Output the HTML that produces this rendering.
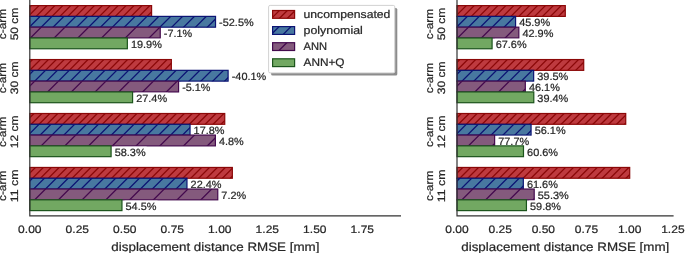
<!DOCTYPE html>
<html><head><meta charset="utf-8"><title>chart</title>
<style>
html,body{margin:0;padding:0;background:#fff;}
body{width:685px;height:253px;overflow:hidden;}
svg{display:block;will-change:transform;}
text{font-family:"Liberation Sans",sans-serif;fill:#262626;stroke:#262626;stroke-width:0.22px;text-rendering:geometricPrecision;}
</style></head><body>
<svg width="685" height="253" viewBox="0 0 685 253">
<defs><clipPath id="c0r0"><rect x="29.80" y="5.60" width="121.79" height="10.79"/></clipPath><clipPath id="c0r1"><rect x="29.80" y="59.55" width="141.55" height="10.79"/></clipPath><clipPath id="c0r2"><rect x="29.80" y="113.50" width="194.94" height="10.79"/></clipPath><clipPath id="c0r3"><rect x="29.80" y="167.45" width="202.54" height="10.79"/></clipPath><clipPath id="c0b0"><rect x="29.80" y="16.39" width="185.73" height="10.79"/></clipPath><clipPath id="c0b1"><rect x="29.80" y="70.34" width="198.31" height="10.79"/></clipPath><clipPath id="c0b2"><rect x="29.80" y="124.29" width="160.24" height="10.79"/></clipPath><clipPath id="c0b3"><rect x="29.80" y="178.24" width="157.17" height="10.79"/></clipPath><clipPath id="c0p0"><rect x="29.80" y="27.18" width="130.44" height="10.79"/></clipPath><clipPath id="c0p1"><rect x="29.80" y="81.13" width="148.77" height="10.79"/></clipPath><clipPath id="c0p2"><rect x="29.80" y="135.08" width="185.58" height="10.79"/></clipPath><clipPath id="c0p3"><rect x="29.80" y="189.03" width="187.96" height="10.79"/></clipPath><clipPath id="c1r0"><rect x="457.00" y="5.60" width="108.28" height="10.79"/></clipPath><clipPath id="c1r1"><rect x="457.00" y="59.55" width="126.71" height="10.79"/></clipPath><clipPath id="c1r2"><rect x="457.00" y="113.50" width="168.73" height="10.79"/></clipPath><clipPath id="c1r3"><rect x="457.00" y="167.45" width="172.70" height="10.79"/></clipPath><clipPath id="c1b0"><rect x="457.00" y="16.39" width="58.58" height="10.79"/></clipPath><clipPath id="c1b1"><rect x="457.00" y="70.34" width="76.66" height="10.79"/></clipPath><clipPath id="c1b2"><rect x="457.00" y="124.29" width="74.07" height="10.79"/></clipPath><clipPath id="c1b3"><rect x="457.00" y="178.24" width="66.32" height="10.79"/></clipPath><clipPath id="c1p0"><rect x="457.00" y="27.18" width="61.83" height="10.79"/></clipPath><clipPath id="c1p1"><rect x="457.00" y="81.13" width="68.30" height="10.79"/></clipPath><clipPath id="c1p2"><rect x="457.00" y="135.08" width="37.63" height="10.79"/></clipPath><clipPath id="c1p3"><rect x="457.00" y="189.03" width="77.20" height="10.79"/></clipPath><clipPath id="clr"><rect x="272.6" y="10.50" width="22.00" height="7.8"/></clipPath><clipPath id="clb"><rect x="272.6" y="26.60" width="22.00" height="7.8"/></clipPath><clipPath id="clp"><rect x="272.6" y="42.70" width="22.00" height="7.8"/></clipPath></defs>
<rect width="685" height="253" fill="#fff"/>
<g style="mix-blend-mode:multiply">
<g><rect x="29.80" y="5.60" width="121.79" height="10.79" fill="#BE3A3F"/><rect x="29.80" y="59.55" width="141.55" height="10.79" fill="#BE3A3F"/><rect x="29.80" y="113.50" width="194.94" height="10.79" fill="#BE3A3F"/><rect x="29.80" y="167.45" width="202.54" height="10.79" fill="#BE3A3F"/><path d="M16.30 4.60L3.51 17.39M24.21 4.60L11.42 17.39M32.12 4.60L19.33 17.39M40.04 4.60L27.25 17.39M47.95 4.60L35.16 17.39M55.86 4.60L43.07 17.39M63.77 4.60L50.98 17.39M71.69 4.60L58.90 17.39M79.60 4.60L66.81 17.39M87.51 4.60L74.72 17.39M95.42 4.60L82.63 17.39M103.33 4.60L90.54 17.39M111.25 4.60L98.46 17.39M119.16 4.60L106.37 17.39M127.07 4.60L114.28 17.39M134.98 4.60L122.19 17.39M142.90 4.60L130.11 17.39M150.81 4.60L138.02 17.39M158.72 4.60L145.93 17.39M166.63 4.60L153.84 17.39M174.54 4.60L161.75 17.39" stroke="#8B0808" stroke-width="1.3" fill="none" clip-path="url(#c0r0)"/><path d="M17.74 58.55L4.95 71.34M25.65 58.55L12.86 71.34M33.56 58.55L20.77 71.34M41.47 58.55L28.68 71.34M49.38 58.55L36.59 71.34M57.30 58.55L44.51 71.34M65.21 58.55L52.42 71.34M73.12 58.55L60.33 71.34M81.03 58.55L68.24 71.34M88.95 58.55L76.16 71.34M96.86 58.55L84.07 71.34M104.77 58.55L91.98 71.34M112.68 58.55L99.89 71.34M120.59 58.55L107.80 71.34M128.51 58.55L115.72 71.34M136.42 58.55L123.63 71.34M144.33 58.55L131.54 71.34M152.24 58.55L139.45 71.34M160.16 58.55L147.37 71.34M168.07 58.55L155.28 71.34M175.98 58.55L163.19 71.34M183.89 58.55L171.10 71.34M191.80 58.55L179.01 71.34" stroke="#8B0808" stroke-width="1.3" fill="none" clip-path="url(#c0r1)"/><path d="M19.17 112.50L6.38 125.29M27.08 112.50L14.29 125.29M35.00 112.50L22.21 125.29M42.91 112.50L30.12 125.29M50.82 112.50L38.03 125.29M58.73 112.50L45.94 125.29M66.64 112.50L53.85 125.29M74.56 112.50L61.77 125.29M82.47 112.50L69.68 125.29M90.38 112.50L77.59 125.29M98.29 112.50L85.50 125.29M106.21 112.50L93.42 125.29M114.12 112.50L101.33 125.29M122.03 112.50L109.24 125.29M129.94 112.50L117.15 125.29M137.85 112.50L125.06 125.29M145.77 112.50L132.98 125.29M153.68 112.50L140.89 125.29M161.59 112.50L148.80 125.29M169.50 112.50L156.71 125.29M177.42 112.50L164.63 125.29M185.33 112.50L172.54 125.29M193.24 112.50L180.45 125.29M201.15 112.50L188.36 125.29M209.06 112.50L196.27 125.29M216.98 112.50L204.19 125.29M224.89 112.50L212.10 125.29M232.80 112.50L220.01 125.29M240.71 112.50L227.92 125.29M248.63 112.50L235.84 125.29" stroke="#8B0808" stroke-width="1.3" fill="none" clip-path="url(#c0r2)"/><path d="M20.61 166.45L7.82 179.24M28.52 166.45L15.73 179.24M36.43 166.45L23.64 179.24M44.34 166.45L31.55 179.24M52.26 166.45L39.47 179.24M60.17 166.45L47.38 179.24M68.08 166.45L55.29 179.24M75.99 166.45L63.20 179.24M83.90 166.45L71.11 179.24M91.82 166.45L79.03 179.24M99.73 166.45L86.94 179.24M107.64 166.45L94.85 179.24M115.55 166.45L102.76 179.24M123.47 166.45L110.68 179.24M131.38 166.45L118.59 179.24M139.29 166.45L126.50 179.24M147.20 166.45L134.41 179.24M155.11 166.45L142.32 179.24M163.03 166.45L150.24 179.24M170.94 166.45L158.15 179.24M178.85 166.45L166.06 179.24M186.76 166.45L173.97 179.24M194.68 166.45L181.89 179.24M202.59 166.45L189.80 179.24M210.50 166.45L197.71 179.24M218.41 166.45L205.62 179.24M226.32 166.45L213.53 179.24M234.24 166.45L221.45 179.24M242.15 166.45L229.36 179.24M250.06 166.45L237.27 179.24M257.97 166.45L245.18 179.24" stroke="#8B0808" stroke-width="1.3" fill="none" clip-path="url(#c0r3)"/><rect x="29.80" y="5.60" width="121.79" height="10.79" fill="none" stroke="#8B0808" stroke-width="1.2"/><rect x="29.80" y="59.55" width="141.55" height="10.79" fill="none" stroke="#8B0808" stroke-width="1.2"/><rect x="29.80" y="113.50" width="194.94" height="10.79" fill="none" stroke="#8B0808" stroke-width="1.2"/><rect x="29.80" y="167.45" width="202.54" height="10.79" fill="none" stroke="#8B0808" stroke-width="1.2"/></g>
<g><rect x="29.80" y="16.39" width="185.73" height="10.79" fill="#4878A0"/><rect x="29.80" y="70.34" width="198.31" height="10.79" fill="#4878A0"/><rect x="29.80" y="124.29" width="160.24" height="10.79" fill="#4878A0"/><rect x="29.80" y="178.24" width="157.17" height="10.79" fill="#4878A0"/><path d="M17.38 15.39L4.59 28.18M29.25 15.39L16.46 28.18M41.11 15.39L28.32 28.18M52.98 15.39L40.19 28.18M64.85 15.39L52.06 28.18M76.72 15.39L63.93 28.18M88.59 15.39L75.80 28.18M100.46 15.39L87.67 28.18M112.33 15.39L99.53 28.18M124.19 15.39L111.40 28.18M136.06 15.39L123.27 28.18M147.93 15.39L135.14 28.18M159.80 15.39L147.01 28.18M171.67 15.39L158.88 28.18M183.53 15.39L170.74 28.18M195.40 15.39L182.61 28.18M207.27 15.39L194.48 28.18M219.14 15.39L206.35 28.18M231.01 15.39L218.22 28.18M242.88 15.39L230.09 28.18" stroke="#0C1474" stroke-width="1.3" fill="none" clip-path="url(#c0b0)"/><path d="M10.90 69.34L-1.89 82.13M22.77 69.34L9.98 82.13M34.64 69.34L21.85 82.13M46.51 69.34L33.72 82.13M58.38 69.34L45.59 82.13M70.24 69.34L57.45 82.13M82.11 69.34L69.32 82.13M93.98 69.34L81.19 82.13M105.85 69.34L93.06 82.13M117.72 69.34L104.93 82.13M129.58 69.34L116.79 82.13M141.45 69.34L128.66 82.13M153.32 69.34L140.53 82.13M165.19 69.34L152.40 82.13M177.06 69.34L164.27 82.13M188.93 69.34L176.14 82.13M200.79 69.34L188.00 82.13M212.66 69.34L199.87 82.13M224.53 69.34L211.74 82.13M236.40 69.34L223.61 82.13M248.27 69.34L235.48 82.13M260.14 69.34L247.35 82.13" stroke="#0C1474" stroke-width="1.3" fill="none" clip-path="url(#c0b1)"/><path d="M16.29 123.29L3.50 136.08M28.16 123.29L15.37 136.08M40.03 123.29L27.24 136.08M51.90 123.29L39.11 136.08M63.77 123.29L50.98 136.08M75.63 123.29L62.84 136.08M87.50 123.29L74.71 136.08M99.37 123.29L86.58 136.08M111.24 123.29L98.45 136.08M123.11 123.29L110.32 136.08M134.98 123.29L122.19 136.08M146.84 123.29L134.06 136.08M158.71 123.29L145.92 136.08M170.58 123.29L157.79 136.08M182.45 123.29L169.66 136.08M194.32 123.29L181.53 136.08M206.19 123.29L193.40 136.08M218.06 123.29L205.27 136.08" stroke="#0C1474" stroke-width="1.3" fill="none" clip-path="url(#c0b2)"/><path d="M9.82 177.24L-2.97 190.03M21.68 177.24L8.89 190.03M33.55 177.24L20.76 190.03M45.42 177.24L32.63 190.03M57.29 177.24L44.50 190.03M69.16 177.24L56.37 190.03M81.03 177.24L68.24 190.03M92.89 177.24L80.10 190.03M104.76 177.24L91.97 190.03M116.63 177.24L103.84 190.03M128.50 177.24L115.71 190.03M140.37 177.24L127.58 190.03M152.24 177.24L139.45 190.03M164.11 177.24L151.32 190.03M175.97 177.24L163.18 190.03M187.84 177.24L175.05 190.03M199.71 177.24L186.92 190.03M211.58 177.24L198.79 190.03" stroke="#0C1474" stroke-width="1.3" fill="none" clip-path="url(#c0b3)"/><rect x="29.80" y="16.39" width="185.73" height="10.79" fill="none" stroke="#0C1474" stroke-width="1.2"/><rect x="29.80" y="70.34" width="198.31" height="10.79" fill="none" stroke="#0C1474" stroke-width="1.2"/><rect x="29.80" y="124.29" width="160.24" height="10.79" fill="none" stroke="#0C1474" stroke-width="1.2"/><rect x="29.80" y="178.24" width="157.17" height="10.79" fill="none" stroke="#0C1474" stroke-width="1.2"/><rect x="218.13" y="17.19" width="36.49" height="9.8" fill="#fff"/><text x="219.13" y="26.48" font-size="10.53" textLength="34.49" lengthAdjust="spacingAndGlyphs">-52.5%</text><rect x="230.71" y="71.14" width="36.49" height="9.8" fill="#fff"/><text x="231.71" y="80.44" font-size="10.53" textLength="34.49" lengthAdjust="spacingAndGlyphs">-40.1%</text><rect x="192.64" y="125.09" width="32.97" height="9.8" fill="#fff"/><text x="193.64" y="134.38" font-size="10.53" textLength="30.97" lengthAdjust="spacingAndGlyphs">17.8%</text><rect x="189.57" y="179.04" width="32.97" height="9.8" fill="#fff"/><text x="190.57" y="188.34" font-size="10.53" textLength="30.97" lengthAdjust="spacingAndGlyphs">22.4%</text></g>
<g><rect x="29.80" y="27.18" width="130.44" height="10.79" fill="#845A7D"/><rect x="29.80" y="81.13" width="148.77" height="10.79" fill="#845A7D"/><rect x="29.80" y="135.08" width="185.58" height="10.79" fill="#845A7D"/><rect x="29.80" y="189.03" width="187.96" height="10.79" fill="#845A7D"/><path d="M-5.28 26.18L-18.07 38.97M18.46 26.18L5.67 38.97M42.19 26.18L29.40 38.97M65.93 26.18L53.14 38.97M89.67 26.18L76.88 38.97M113.40 26.18L100.61 38.97M137.14 26.18L124.35 38.97M160.88 26.18L148.09 38.97M184.61 26.18L171.82 38.97M208.35 26.18L195.56 38.97" stroke="#440A4E" stroke-width="1.3" fill="none" clip-path="url(#c0p0)"/><path d="M-11.76 80.13L-24.55 92.92M11.98 80.13L-0.81 92.92M35.72 80.13L22.93 92.92M59.45 80.13L46.66 92.92M83.19 80.13L70.40 92.92M106.93 80.13L94.14 92.92M130.66 80.13L117.87 92.92M154.40 80.13L141.61 92.92M178.14 80.13L165.35 92.92M201.87 80.13L189.08 92.92M225.61 80.13L212.82 92.92" stroke="#440A4E" stroke-width="1.3" fill="none" clip-path="url(#c0p1)"/><path d="M5.50 134.08L-7.29 146.87M29.24 134.08L16.45 146.87M52.98 134.08L40.19 146.87M76.71 134.08L63.92 146.87M100.45 134.08L87.66 146.87M124.19 134.08L111.40 146.87M147.92 134.08L135.13 146.87M171.66 134.08L158.87 146.87M195.40 134.08L182.61 146.87M219.13 134.08L206.34 146.87M242.87 134.08L230.08 146.87M266.61 134.08L253.82 146.87" stroke="#440A4E" stroke-width="1.3" fill="none" clip-path="url(#c0p2)"/><path d="M-0.97 188.03L-13.76 200.82M22.76 188.03L9.97 200.82M46.50 188.03L33.71 200.82M70.24 188.03L57.45 200.82M93.97 188.03L81.18 200.82M117.71 188.03L104.92 200.82M141.45 188.03L128.66 200.82M165.18 188.03L152.39 200.82M188.92 188.03L176.13 200.82M212.66 188.03L199.87 200.82M236.39 188.03L223.60 200.82M260.13 188.03L247.34 200.82" stroke="#440A4E" stroke-width="1.3" fill="none" clip-path="url(#c0p3)"/><rect x="29.80" y="27.18" width="130.44" height="10.79" fill="none" stroke="#440A4E" stroke-width="1.2"/><rect x="29.80" y="81.13" width="148.77" height="10.79" fill="none" stroke="#440A4E" stroke-width="1.2"/><rect x="29.80" y="135.08" width="185.58" height="10.79" fill="none" stroke="#440A4E" stroke-width="1.2"/><rect x="29.80" y="189.03" width="187.96" height="10.79" fill="none" stroke="#440A4E" stroke-width="1.2"/><rect x="162.84" y="27.98" width="30.29" height="9.8" fill="#fff"/><text x="163.84" y="37.28" font-size="10.53" textLength="28.29" lengthAdjust="spacingAndGlyphs">-7.1%</text><rect x="181.17" y="81.92" width="30.29" height="9.8" fill="#fff"/><text x="182.17" y="91.22" font-size="10.53" textLength="28.29" lengthAdjust="spacingAndGlyphs">-5.1%</text><rect x="217.98" y="135.88" width="26.77" height="9.8" fill="#fff"/><text x="218.98" y="145.17" font-size="10.53" textLength="24.77" lengthAdjust="spacingAndGlyphs">4.8%</text><rect x="220.36" y="189.83" width="26.77" height="9.8" fill="#fff"/><text x="221.36" y="199.13" font-size="10.53" textLength="24.77" lengthAdjust="spacingAndGlyphs">7.2%</text></g>
<g><rect x="29.80" y="37.97" width="97.55" height="10.79" fill="#72A862"/><rect x="29.80" y="91.92" width="102.77" height="10.79" fill="#72A862"/><rect x="29.80" y="145.87" width="81.29" height="10.79" fill="#72A862"/><rect x="29.80" y="199.82" width="92.16" height="10.79" fill="#72A862"/><rect x="29.80" y="37.97" width="97.55" height="10.79" fill="none" stroke="#1C541C" stroke-width="1.2"/><rect x="29.80" y="91.92" width="102.77" height="10.79" fill="none" stroke="#1C541C" stroke-width="1.2"/><rect x="29.80" y="145.87" width="81.29" height="10.79" fill="none" stroke="#1C541C" stroke-width="1.2"/><rect x="29.80" y="199.82" width="92.16" height="10.79" fill="none" stroke="#1C541C" stroke-width="1.2"/><rect x="129.95" y="38.76" width="32.97" height="9.8" fill="#fff"/><text x="130.95" y="48.06" font-size="10.53" textLength="30.97" lengthAdjust="spacingAndGlyphs">19.9%</text><rect x="135.17" y="92.72" width="32.97" height="9.8" fill="#fff"/><text x="136.17" y="102.02" font-size="10.53" textLength="30.97" lengthAdjust="spacingAndGlyphs">27.4%</text><rect x="113.69" y="146.67" width="32.97" height="9.8" fill="#fff"/><text x="114.69" y="155.97" font-size="10.53" textLength="30.97" lengthAdjust="spacingAndGlyphs">58.3%</text><rect x="124.56" y="200.62" width="32.97" height="9.8" fill="#fff"/><text x="125.56" y="209.92" font-size="10.53" textLength="30.97" lengthAdjust="spacingAndGlyphs">54.5%</text></g>
<path d="M29.80 0V215.8H401.0" fill="none" stroke="#333333" stroke-width="1.2"/>
<text x="18.11" y="233.10" font-size="10.81" textLength="23.38" lengthAdjust="spacingAndGlyphs">0.00</text>
<text x="65.61" y="233.10" font-size="10.81" textLength="23.38" lengthAdjust="spacingAndGlyphs">0.25</text>
<text x="113.11" y="233.10" font-size="10.81" textLength="23.38" lengthAdjust="spacingAndGlyphs">0.50</text>
<text x="160.61" y="233.10" font-size="10.81" textLength="23.38" lengthAdjust="spacingAndGlyphs">0.75</text>
<text x="208.11" y="233.10" font-size="10.81" textLength="23.38" lengthAdjust="spacingAndGlyphs">1.00</text>
<text x="255.61" y="233.10" font-size="10.81" textLength="23.38" lengthAdjust="spacingAndGlyphs">1.25</text>
<text x="303.11" y="233.10" font-size="10.81" textLength="23.38" lengthAdjust="spacingAndGlyphs">1.50</text>
<text x="350.61" y="233.10" font-size="10.81" textLength="23.38" lengthAdjust="spacingAndGlyphs">1.75</text>
<text x="111.38" y="250.80" font-size="12.26" textLength="208.05" lengthAdjust="spacingAndGlyphs">displacement distance RMSE [mm]</text>
<text transform="translate(5.90 39.18) rotate(-90)" font-size="10.81" textLength="30.36" lengthAdjust="spacingAndGlyphs">c-arm</text>
<text transform="translate(18.00 40.35) rotate(-90)" font-size="10.81" textLength="32.70" lengthAdjust="spacingAndGlyphs">50 cm</text>
<text transform="translate(5.90 93.13) rotate(-90)" font-size="10.81" textLength="30.36" lengthAdjust="spacingAndGlyphs">c-arm</text>
<text transform="translate(18.00 94.30) rotate(-90)" font-size="10.81" textLength="32.70" lengthAdjust="spacingAndGlyphs">30 cm</text>
<text transform="translate(5.90 147.08) rotate(-90)" font-size="10.81" textLength="30.36" lengthAdjust="spacingAndGlyphs">c-arm</text>
<text transform="translate(18.00 148.25) rotate(-90)" font-size="10.81" textLength="32.70" lengthAdjust="spacingAndGlyphs">12 cm</text>
<text transform="translate(5.90 201.03) rotate(-90)" font-size="10.81" textLength="30.36" lengthAdjust="spacingAndGlyphs">c-arm</text>
<text transform="translate(18.00 202.20) rotate(-90)" font-size="10.81" textLength="32.70" lengthAdjust="spacingAndGlyphs">11 cm</text>
<g><rect x="457.00" y="5.60" width="108.28" height="10.79" fill="#BE3A3F"/><rect x="457.00" y="59.55" width="126.71" height="10.79" fill="#BE3A3F"/><rect x="457.00" y="113.50" width="168.73" height="10.79" fill="#BE3A3F"/><rect x="457.00" y="167.45" width="172.70" height="10.79" fill="#BE3A3F"/><path d="M443.56 4.60L430.77 17.39M451.47 4.60L438.68 17.39M459.38 4.60L446.59 17.39M467.30 4.60L454.51 17.39M475.21 4.60L462.42 17.39M483.12 4.60L470.33 17.39M491.03 4.60L478.24 17.39M498.95 4.60L486.16 17.39M506.86 4.60L494.07 17.39M514.77 4.60L501.98 17.39M522.68 4.60L509.89 17.39M530.59 4.60L517.80 17.39M538.51 4.60L525.72 17.39M546.42 4.60L533.63 17.39M554.33 4.60L541.54 17.39M562.24 4.60L549.45 17.39M570.16 4.60L557.37 17.39M578.07 4.60L565.28 17.39M585.98 4.60L573.19 17.39" stroke="#8B0808" stroke-width="1.3" fill="none" clip-path="url(#c1r0)"/><path d="M445.00 58.55L432.21 71.34M452.91 58.55L440.12 71.34M460.82 58.55L448.03 71.34M468.73 58.55L455.94 71.34M476.64 58.55L463.85 71.34M484.56 58.55L471.77 71.34M492.47 58.55L479.68 71.34M500.38 58.55L487.59 71.34M508.29 58.55L495.50 71.34M516.21 58.55L503.42 71.34M524.12 58.55L511.33 71.34M532.03 58.55L519.24 71.34M539.94 58.55L527.15 71.34M547.85 58.55L535.06 71.34M555.77 58.55L542.98 71.34M563.68 58.55L550.89 71.34M571.59 58.55L558.80 71.34M579.50 58.55L566.71 71.34M587.42 58.55L574.63 71.34M595.33 58.55L582.54 71.34M603.24 58.55L590.45 71.34M611.15 58.55L598.36 71.34" stroke="#8B0808" stroke-width="1.3" fill="none" clip-path="url(#c1r1)"/><path d="M446.43 112.50L433.64 125.29M454.34 112.50L441.55 125.29M462.26 112.50L449.47 125.29M470.17 112.50L457.38 125.29M478.08 112.50L465.29 125.29M485.99 112.50L473.20 125.29M493.90 112.50L481.11 125.29M501.82 112.50L489.03 125.29M509.73 112.50L496.94 125.29M517.64 112.50L504.85 125.29M525.55 112.50L512.76 125.29M533.47 112.50L520.68 125.29M541.38 112.50L528.59 125.29M549.29 112.50L536.50 125.29M557.20 112.50L544.41 125.29M565.11 112.50L552.32 125.29M573.03 112.50L560.24 125.29M580.94 112.50L568.15 125.29M588.85 112.50L576.06 125.29M596.76 112.50L583.97 125.29M604.68 112.50L591.89 125.29M612.59 112.50L599.80 125.29M620.50 112.50L607.71 125.29M628.41 112.50L615.62 125.29M636.32 112.50L623.53 125.29M644.24 112.50L631.45 125.29M652.15 112.50L639.36 125.29" stroke="#8B0808" stroke-width="1.3" fill="none" clip-path="url(#c1r2)"/><path d="M447.87 166.45L435.08 179.24M455.78 166.45L442.99 179.24M463.69 166.45L450.90 179.24M471.60 166.45L458.81 179.24M479.52 166.45L466.73 179.24M487.43 166.45L474.64 179.24M495.34 166.45L482.55 179.24M503.25 166.45L490.46 179.24M511.16 166.45L498.37 179.24M519.08 166.45L506.29 179.24M526.99 166.45L514.20 179.24M534.90 166.45L522.11 179.24M542.81 166.45L530.02 179.24M550.73 166.45L537.94 179.24M558.64 166.45L545.85 179.24M566.55 166.45L553.76 179.24M574.46 166.45L561.67 179.24M582.37 166.45L569.58 179.24M590.29 166.45L577.50 179.24M598.20 166.45L585.41 179.24M606.11 166.45L593.32 179.24M614.02 166.45L601.23 179.24M621.94 166.45L609.15 179.24M629.85 166.45L617.06 179.24M637.76 166.45L624.97 179.24M645.67 166.45L632.88 179.24M653.58 166.45L640.79 179.24" stroke="#8B0808" stroke-width="1.3" fill="none" clip-path="url(#c1r3)"/><rect x="457.00" y="5.60" width="108.28" height="10.79" fill="none" stroke="#8B0808" stroke-width="1.2"/><rect x="457.00" y="59.55" width="126.71" height="10.79" fill="none" stroke="#8B0808" stroke-width="1.2"/><rect x="457.00" y="113.50" width="168.73" height="10.79" fill="none" stroke="#8B0808" stroke-width="1.2"/><rect x="457.00" y="167.45" width="172.70" height="10.79" fill="none" stroke="#8B0808" stroke-width="1.2"/></g>
<g><rect x="457.00" y="16.39" width="58.58" height="10.79" fill="#4878A0"/><rect x="457.00" y="70.34" width="76.66" height="10.79" fill="#4878A0"/><rect x="457.00" y="124.29" width="74.07" height="10.79" fill="#4878A0"/><rect x="457.00" y="178.24" width="66.32" height="10.79" fill="#4878A0"/><path d="M444.64 15.39L431.85 28.18M456.51 15.39L443.72 28.18M468.37 15.39L455.58 28.18M480.24 15.39L467.45 28.18M492.11 15.39L479.32 28.18M503.98 15.39L491.19 28.18M515.85 15.39L503.06 28.18M527.72 15.39L514.93 28.18M539.58 15.39L526.79 28.18" stroke="#0C1474" stroke-width="1.3" fill="none" clip-path="url(#c1b0)"/><path d="M438.16 69.34L425.37 82.13M450.03 69.34L437.24 82.13M461.90 69.34L449.11 82.13M473.77 69.34L460.98 82.13M485.63 69.34L472.84 82.13M497.50 69.34L484.71 82.13M509.37 69.34L496.58 82.13M521.24 69.34L508.45 82.13M533.11 69.34L520.32 82.13M544.98 69.34L532.19 82.13M556.84 69.34L544.05 82.13M568.71 69.34L555.92 82.13" stroke="#0C1474" stroke-width="1.3" fill="none" clip-path="url(#c1b1)"/><path d="M443.55 123.29L430.76 136.08M455.42 123.29L442.63 136.08M467.29 123.29L454.50 136.08M479.16 123.29L466.37 136.08M491.03 123.29L478.24 136.08M502.89 123.29L490.10 136.08M514.76 123.29L501.97 136.08M526.63 123.29L513.84 136.08M538.50 123.29L525.71 136.08M550.37 123.29L537.58 136.08M562.24 123.29L549.45 136.08" stroke="#0C1474" stroke-width="1.3" fill="none" clip-path="url(#c1b2)"/><path d="M437.08 177.24L424.29 190.03M448.94 177.24L436.15 190.03M460.81 177.24L448.02 190.03M472.68 177.24L459.89 190.03M484.55 177.24L471.76 190.03M496.42 177.24L483.63 190.03M508.29 177.24L495.50 190.03M520.15 177.24L507.36 190.03M532.02 177.24L519.23 190.03M543.89 177.24L531.10 190.03M555.76 177.24L542.97 190.03" stroke="#0C1474" stroke-width="1.3" fill="none" clip-path="url(#c1b3)"/><rect x="457.00" y="16.39" width="58.58" height="10.79" fill="none" stroke="#0C1474" stroke-width="1.2"/><rect x="457.00" y="70.34" width="76.66" height="10.79" fill="none" stroke="#0C1474" stroke-width="1.2"/><rect x="457.00" y="124.29" width="74.07" height="10.79" fill="none" stroke="#0C1474" stroke-width="1.2"/><rect x="457.00" y="178.24" width="66.32" height="10.79" fill="none" stroke="#0C1474" stroke-width="1.2"/><rect x="518.18" y="17.19" width="32.97" height="9.8" fill="#fff"/><text x="519.18" y="26.48" font-size="10.53" textLength="30.97" lengthAdjust="spacingAndGlyphs">45.9%</text><rect x="536.26" y="71.14" width="32.97" height="9.8" fill="#fff"/><text x="537.26" y="80.44" font-size="10.53" textLength="30.97" lengthAdjust="spacingAndGlyphs">39.5%</text><rect x="533.67" y="125.09" width="32.97" height="9.8" fill="#fff"/><text x="534.67" y="134.38" font-size="10.53" textLength="30.97" lengthAdjust="spacingAndGlyphs">56.1%</text><rect x="525.92" y="179.04" width="32.97" height="9.8" fill="#fff"/><text x="526.92" y="188.34" font-size="10.53" textLength="30.97" lengthAdjust="spacingAndGlyphs">61.6%</text></g>
<g><rect x="457.00" y="27.18" width="61.83" height="10.79" fill="#845A7D"/><rect x="457.00" y="81.13" width="68.30" height="10.79" fill="#845A7D"/><rect x="457.00" y="135.08" width="37.63" height="10.79" fill="#845A7D"/><rect x="457.00" y="189.03" width="77.20" height="10.79" fill="#845A7D"/><path d="M421.98 26.18L409.19 38.97M445.72 26.18L432.93 38.97M469.45 26.18L456.66 38.97M493.19 26.18L480.40 38.97M516.93 26.18L504.14 38.97M540.66 26.18L527.87 38.97M564.40 26.18L551.61 38.97" stroke="#440A4E" stroke-width="1.3" fill="none" clip-path="url(#c1p0)"/><path d="M415.50 80.13L402.71 92.92M439.24 80.13L426.45 92.92M462.98 80.13L450.19 92.92M486.71 80.13L473.92 92.92M510.45 80.13L497.66 92.92M534.19 80.13L521.40 92.92M557.92 80.13L545.13 92.92M581.66 80.13L568.87 92.92" stroke="#440A4E" stroke-width="1.3" fill="none" clip-path="url(#c1p1)"/><path d="M432.76 134.08L419.97 146.87M456.50 134.08L443.71 146.87M480.24 134.08L467.45 146.87M503.97 134.08L491.18 146.87M527.71 134.08L514.92 146.87M551.45 134.08L538.66 146.87" stroke="#440A4E" stroke-width="1.3" fill="none" clip-path="url(#c1p2)"/><path d="M426.29 188.03L413.50 200.82M450.02 188.03L437.23 200.82M473.76 188.03L460.97 200.82M497.50 188.03L484.71 200.82M521.23 188.03L508.44 200.82M544.97 188.03L532.18 200.82M568.71 188.03L555.92 200.82M592.44 188.03L579.65 200.82" stroke="#440A4E" stroke-width="1.3" fill="none" clip-path="url(#c1p3)"/><rect x="457.00" y="27.18" width="61.83" height="10.79" fill="none" stroke="#440A4E" stroke-width="1.2"/><rect x="457.00" y="81.13" width="68.30" height="10.79" fill="none" stroke="#440A4E" stroke-width="1.2"/><rect x="457.00" y="135.08" width="37.63" height="10.79" fill="none" stroke="#440A4E" stroke-width="1.2"/><rect x="457.00" y="189.03" width="77.20" height="10.79" fill="none" stroke="#440A4E" stroke-width="1.2"/><rect x="521.43" y="27.98" width="32.97" height="9.8" fill="#fff"/><text x="522.43" y="37.28" font-size="10.53" textLength="30.97" lengthAdjust="spacingAndGlyphs">42.9%</text><rect x="527.90" y="81.92" width="32.97" height="9.8" fill="#fff"/><text x="528.90" y="91.22" font-size="10.53" textLength="30.97" lengthAdjust="spacingAndGlyphs">46.1%</text><rect x="497.23" y="135.88" width="32.97" height="9.8" fill="#fff"/><text x="498.23" y="145.17" font-size="10.53" textLength="30.97" lengthAdjust="spacingAndGlyphs">77.7%</text><rect x="536.80" y="189.83" width="32.97" height="9.8" fill="#fff"/><text x="537.80" y="199.13" font-size="10.53" textLength="30.97" lengthAdjust="spacingAndGlyphs">55.3%</text></g>
<g><rect x="457.00" y="37.97" width="35.08" height="10.79" fill="#72A862"/><rect x="457.00" y="91.92" width="76.79" height="10.79" fill="#72A862"/><rect x="457.00" y="145.87" width="66.48" height="10.79" fill="#72A862"/><rect x="457.00" y="199.82" width="69.43" height="10.79" fill="#72A862"/><rect x="457.00" y="37.97" width="35.08" height="10.79" fill="none" stroke="#1C541C" stroke-width="1.2"/><rect x="457.00" y="91.92" width="76.79" height="10.79" fill="none" stroke="#1C541C" stroke-width="1.2"/><rect x="457.00" y="145.87" width="66.48" height="10.79" fill="none" stroke="#1C541C" stroke-width="1.2"/><rect x="457.00" y="199.82" width="69.43" height="10.79" fill="none" stroke="#1C541C" stroke-width="1.2"/><rect x="494.68" y="38.76" width="32.97" height="9.8" fill="#fff"/><text x="495.68" y="48.06" font-size="10.53" textLength="30.97" lengthAdjust="spacingAndGlyphs">67.6%</text><rect x="536.39" y="92.72" width="32.97" height="9.8" fill="#fff"/><text x="537.39" y="102.02" font-size="10.53" textLength="30.97" lengthAdjust="spacingAndGlyphs">39.4%</text><rect x="526.08" y="146.67" width="32.97" height="9.8" fill="#fff"/><text x="527.08" y="155.97" font-size="10.53" textLength="30.97" lengthAdjust="spacingAndGlyphs">60.6%</text><rect x="529.03" y="200.62" width="32.97" height="9.8" fill="#fff"/><text x="530.03" y="209.92" font-size="10.53" textLength="30.97" lengthAdjust="spacingAndGlyphs">59.8%</text></g>
<path d="M457.00 0V215.8H673.6" fill="none" stroke="#333333" stroke-width="1.2"/>
<text x="445.31" y="233.10" font-size="10.81" textLength="23.38" lengthAdjust="spacingAndGlyphs">0.00</text>
<text x="488.49" y="233.10" font-size="10.81" textLength="23.38" lengthAdjust="spacingAndGlyphs">0.25</text>
<text x="531.66" y="233.10" font-size="10.81" textLength="23.38" lengthAdjust="spacingAndGlyphs">0.50</text>
<text x="574.84" y="233.10" font-size="10.81" textLength="23.38" lengthAdjust="spacingAndGlyphs">0.75</text>
<text x="618.01" y="233.10" font-size="10.81" textLength="23.38" lengthAdjust="spacingAndGlyphs">1.00</text>
<text x="661.19" y="233.10" font-size="10.81" textLength="23.38" lengthAdjust="spacingAndGlyphs">1.25</text>
<text x="461.28" y="250.80" font-size="12.26" textLength="208.05" lengthAdjust="spacingAndGlyphs">displacement distance RMSE [mm]</text>
<text transform="translate(433.20 39.18) rotate(-90)" font-size="10.81" textLength="30.36" lengthAdjust="spacingAndGlyphs">c-arm</text>
<text transform="translate(445.30 40.35) rotate(-90)" font-size="10.81" textLength="32.70" lengthAdjust="spacingAndGlyphs">50 cm</text>
<text transform="translate(433.20 93.13) rotate(-90)" font-size="10.81" textLength="30.36" lengthAdjust="spacingAndGlyphs">c-arm</text>
<text transform="translate(445.30 94.30) rotate(-90)" font-size="10.81" textLength="32.70" lengthAdjust="spacingAndGlyphs">30 cm</text>
<text transform="translate(433.20 147.08) rotate(-90)" font-size="10.81" textLength="30.36" lengthAdjust="spacingAndGlyphs">c-arm</text>
<text transform="translate(445.30 148.25) rotate(-90)" font-size="10.81" textLength="32.70" lengthAdjust="spacingAndGlyphs">12 cm</text>
<text transform="translate(433.20 201.03) rotate(-90)" font-size="10.81" textLength="30.36" lengthAdjust="spacingAndGlyphs">c-arm</text>
<text transform="translate(445.30 202.20) rotate(-90)" font-size="10.81" textLength="32.70" lengthAdjust="spacingAndGlyphs">11 cm</text>
<g><rect x="271.10" y="8.10" width="126.20" height="67.50" fill="#8c8c8c" rx="1.5"/><rect x="268.6" y="5.4" width="126.19999999999999" height="67.5" fill="#fff" stroke="#d2d2d2" stroke-width="1" rx="1.5"/><rect x="272.6" y="10.50" width="22.00" height="7.8" fill="#BE3A3F"/><path d="M264.59 9.50L254.79 19.30M272.50 9.50L262.70 19.30M280.42 9.50L270.62 19.30M288.33 9.50L278.53 19.30M296.24 9.50L286.44 19.30M304.15 9.50L294.35 19.30M312.06 9.50L302.26 19.30" stroke="#8B0808" stroke-width="1.3" fill="none" clip-path="url(#clr)"/><rect x="272.6" y="10.50" width="22.00" height="7.8" fill="none" stroke="#8B0808" stroke-width="1.2"/><text x="303.50" y="17.90" font-size="11.10" textLength="86.92" lengthAdjust="spacingAndGlyphs">uncompensated</text><rect x="272.6" y="26.60" width="22.00" height="7.8" fill="#4878A0"/><path d="M256.40 25.60L246.60 35.40M268.27 25.60L258.47 35.40M280.14 25.60L270.34 35.40M292.01 25.60L282.21 35.40M303.88 25.60L294.08 35.40M315.74 25.60L305.94 35.40" stroke="#0C1474" stroke-width="1.3" fill="none" clip-path="url(#clb)"/><rect x="272.6" y="26.60" width="22.00" height="7.8" fill="none" stroke="#0C1474" stroke-width="1.2"/><text x="303.50" y="34.00" font-size="11.10" textLength="59.34" lengthAdjust="spacingAndGlyphs">polynomial</text><rect x="272.6" y="42.70" width="22.00" height="7.8" fill="#845A7D"/><path d="M240.30 41.70L230.50 51.50M264.04 41.70L254.24 51.50M287.78 41.70L277.98 51.50M311.51 41.70L301.71 51.50M335.25 41.70L325.45 51.50" stroke="#440A4E" stroke-width="1.3" fill="none" clip-path="url(#clp)"/><rect x="272.6" y="42.70" width="22.00" height="7.8" fill="none" stroke="#440A4E" stroke-width="1.2"/><text x="303.50" y="50.10" font-size="11.10" textLength="23.50" lengthAdjust="spacingAndGlyphs">ANN</text><rect x="272.6" y="58.80" width="22.00" height="7.8" fill="#72A862"/><rect x="272.6" y="58.80" width="22.00" height="7.8" fill="none" stroke="#1C541C" stroke-width="1.2"/><text x="303.50" y="66.20" font-size="11.10" textLength="41.02" lengthAdjust="spacingAndGlyphs">ANN+Q</text></g>
</g>
</svg>
</body></html>
